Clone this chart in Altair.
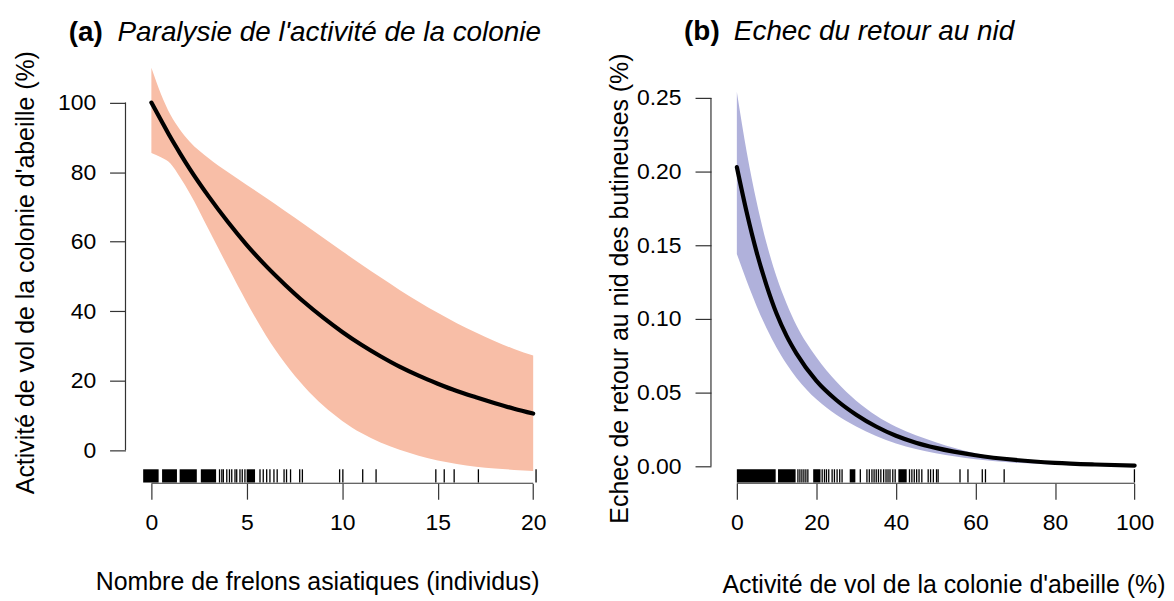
import altair as alt
import pandas as pd

FONT = "Liberation Sans"

# ---------------- Panel (a) ----------------
a_x = [0, 0.5, 1, 1.5, 2, 3, 4, 5, 6, 7, 8, 9, 10, 11, 12, 13, 14, 15, 16, 17, 18, 19, 20]
a_mean = [100, 95, 90, 85.4, 81, 73, 65.7, 59, 53, 47.6, 42.6, 38.1, 34, 30.3, 27, 24,
          21.4, 19.1, 17, 15.2, 13.5, 11.9, 10.5]
a_high = [110, 102.5, 96.5, 92.2, 88.8, 84, 80, 76.3, 72.6, 68.8, 65, 61.1, 57.2, 53.4, 49.7,
          46.1, 42.7, 39.5, 36.5, 33.8, 31.3, 29.1, 27.2]
a_low = [85.5, 84.3, 82.5, 78.5, 74, 63.5, 52.8, 42.5, 33, 25, 18.3, 12.8, 8.4, 4.9, 2.2,
         0.1, -1.6, -3.0, -4.0, -4.8, -5.3, -5.7, -6.0]
a_rug = [3.57, 3.69, 3.77, 3.95, 4.09, 4.21, 4.38, 4.47, 4.64, 4.76, 4.90, 5.69, 5.86, 6.04,
         6.21, 6.42, 6.59, 6.95, 7.08, 7.29, 7.77, 7.91, 9.86, 10.03, 11.07, 11.77, 14.9,
         15.34, 15.86, 17.13, 20.15]
a_rug_block_start = [-0.43, 0.56, 1.48, 2.59, 4.99]
a_rug_block_end = [0.38, 1.34, 2.38, 3.39, 5.43]
a_xticks = [0, 5, 10, 15, 20]
a_yticks = [0, 20, 40, 60, 80, 100]

# ---------------- Panel (b) ----------------
b_x = [0, 2.5, 5, 7.5, 10, 12.5, 15, 20, 25, 30, 35, 40, 45, 50, 60, 70, 80, 90, 100]
b_mean = [0.203, 0.172, 0.145, 0.1225, 0.1035, 0.0885, 0.0765, 0.058, 0.045, 0.035, 0.027,
          0.0207, 0.016, 0.0125, 0.0075, 0.0043, 0.0023, 0.0012, 0.0005]
b_high = [0.254, 0.213, 0.179, 0.151, 0.1285, 0.1105, 0.0955, 0.074, 0.0575, 0.0445, 0.0345,
          0.0268, 0.021, 0.0163, 0.0088, 0.0048, 0.0025, 0.0013, 0.0006]
b_low = [0.144, 0.1255, 0.1085, 0.0935, 0.0805, 0.0695, 0.060, 0.0455, 0.035, 0.027, 0.0205,
         0.0155, 0.0117, 0.0088, 0.0048, 0.0024, 0.0011, 0.0005, 0.0002]
b_rug = [15.35, 15.85, 16.35, 16.85, 17.35, 17.85, 21.45, 22.03, 22.53, 23.1, 23.95, 24.53,
         25.2, 25.86, 26.45, 31.04, 32.7, 33.3, 33.96, 34.5, 35.04, 35.6, 36.2, 36.9, 37.5,
         38.0, 38.5, 39.2, 39.8, 43.4, 44.0, 44.6, 45.2, 45.8, 46.5, 48.1, 48.7, 49.4, 50.2,
         50.6, 56.1, 58.1, 61.7, 62.5, 67.2, 99.95]
b_rug_block_start = [0.0, 10.35, 19.19, 28.37, 40.6]
b_rug_block_end = [9.76, 14.77, 21.03, 29.79, 42.7]
b_xticks = [0, 20, 40, 60, 80, 100]
b_yticks = [0, 0.05, 0.10, 0.15, 0.20, 0.25]

H = 471


def panel(xs, mean, low, high, rug, bs, be, xticks, yticks, xdom, ydom, width,
          rug_y, color, xtitle, ytitle, xt_pos, yt_pos, tag, tag_x, text, text_x,
          title_y, yfmt):
    curve = pd.DataFrame({"x": xs, "mean": mean, "lo": low, "hi": high})
    rugdf = pd.DataFrame({"x": rug})
    blocks = pd.DataFrame({"x0": bs, "x1": be})
    xscale = alt.Scale(domain=xdom, nice=False, zero=False)
    yscale = alt.Scale(domain=ydom, nice=False, zero=False)
    xaxis = alt.Axis(values=xticks, title=xtitle, titleX=xt_pos[0], titleY=xt_pos[1],
                     titleBaseline="alphabetic", titleAlign="center", labelPadding=12,
                     format="d")
    yaxis = alt.Axis(values=yticks, title=ytitle, titleX=yt_pos[0], titleY=yt_pos[1],
                     titleBaseline="alphabetic", titleAlign="center", titleAngle=270,
                     labelPadding=14, format=yfmt)
    X = alt.X("x:Q", scale=xscale, axis=xaxis)

    band = alt.Chart(curve).mark_area(color=color, opacity=1, interpolate="monotone").encode(
        x=X, y=alt.Y("lo:Q", scale=yscale, axis=yaxis), y2="hi:Q")
    line = alt.Chart(curve).mark_line(color="black", strokeWidth=4.2, interpolate="monotone",
                                       strokeCap="round").encode(
        x=X, y=alt.Y("mean:Q", scale=yscale, axis=yaxis))
    ticks = alt.Chart(rugdf).mark_rule(color="black", strokeWidth=1.3).encode(
        x=X, y=alt.datum(rug_y[0]), y2=alt.datum(rug_y[1]))
    rects = alt.Chart(blocks).mark_rect(color="black").encode(
        x=alt.X("x0:Q", scale=xscale, axis=xaxis), x2="x1:Q",
        y=alt.datum(rug_y[0]), y2=alt.datum(rug_y[1]))
    xline = alt.Chart(pd.DataFrame({"a": [xticks[0]], "b": [xticks[-1]]})).mark_rule(
        color="#333", strokeWidth=1.2).encode(
        x=alt.X("a:Q", scale=xscale, axis=xaxis), x2="b:Q", y=alt.value(H))
    yline = alt.Chart(pd.DataFrame({"a": [yticks[0]], "b": [yticks[-1]]})).mark_rule(
        color="#333", strokeWidth=1.2).encode(
        y=alt.Y("a:Q", scale=yscale, axis=yaxis), y2="b:Q", x=alt.value(0))
    t1 = alt.Chart(pd.DataFrame({"t": [tag]})).mark_text(
        align="left", baseline="alphabetic", font=FONT, fontSize=28, fontWeight="bold",
        color="black").encode(x=alt.value(tag_x), y=alt.value(title_y), text="t:N")
    t2 = alt.Chart(pd.DataFrame({"t": [text]})).mark_text(
        align="left", baseline="alphabetic", font=FONT, fontSize=28, fontStyle="italic",
        color="black").encode(x=alt.value(text_x), y=alt.value(title_y), text="t:N")
    return alt.layer(band, line, rects, ticks, xline, yline, t1, t2).properties(
        width=width, height=H)


pa = panel(a_x, a_mean, a_low, a_high, a_rug, a_rug_block_start, a_rug_block_end,
           a_xticks, a_yticks, [-1.356, 20.55], [-9.54, 125.42], 420, [-5.53, -9.34],
           "#F8BEA7", "Nombre de frelons asiatiques (individus)",
           "Activité de vol de la colonie d'abeille (%)", (192.5, 107), (-92, 259),
           "(a)", -57, "Paralysie de l'activité de la colonie", -8, 27, "d")
pb = panel(b_x, b_mean, b_low, b_high, b_rug, b_rug_block_start, b_rug_block_end,
           b_xticks, b_yticks, [-6.508, 103.63], [-0.01149, 0.30676], 440,
           [-0.0020, -0.0110], "#B0B1DB", "Activité de vol de la colonie d'abeille (%)",
           "Echec de retour au nid des butineuses (%)", (233.5, 110), (-84, 275),
           "(b)", -27, "Echec du retour au nid", 23, 26, ".2f")

chart = alt.hconcat(pa, pb, spacing=60).properties(
    padding={"left": 5, "top": 5, "right": 0, "bottom": 0}
).configure_view(stroke=None).configure_axis(
    grid=False, domain=False, labelFont=FONT, labelFontSize=23, labelColor="black",
    tickColor="#333", tickSize=16, tickWidth=1.2, titleFont=FONT, titleFontSize=25,
    titleFontWeight="normal", titleColor="black", labelFlush=False, labelOverlap=False
)

chart.save("out.html", embed_options={"renderer": "svg", "actions": False})
